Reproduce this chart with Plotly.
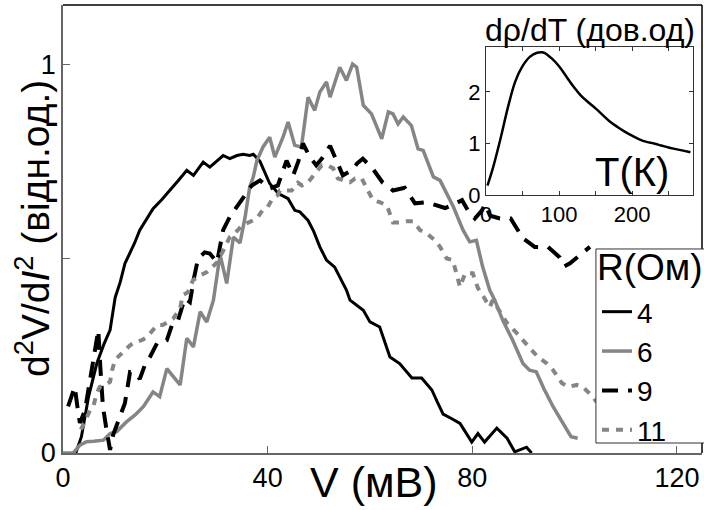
import plotly.graph_objects as go

# ---------------- data ----------------
v_r4 = [2.5, 3.6, 5.0, 6.6, 8.0, 9.2, 10.2, 11.2, 12.1, 13.1, 14.0, 15.0, 16.3, 17.6, 19.2,
        20.9, 22.5, 24.2, 25.5, 27.4, 28.7, 30.0, 31.3, 32.6, 34.0, 35.2, 36.5, 37.2, 38.5,
        40.4, 42.1, 44.0, 45.3, 46.3, 47.9, 49.0, 50.2, 51.5, 53.1, 55.4, 56.1, 58.7, 60.0,
        61.9, 63.9, 65.8, 68.2, 70.1, 72.1, 73.2, 74.3, 76.0, 77.6, 79.9, 81.1, 82.4, 84.8,
        86.8, 88.3, 90.6, 91.6]
y_r4 = [0.0, 0.042, 0.145, 0.23, 0.28, 0.316, 0.40, 0.44, 0.487, 0.513, 0.54, 0.573, 0.60,
        0.628, 0.65, 0.675, 0.70, 0.727, 0.714, 0.748, 0.735, 0.75, 0.765, 0.757, 0.765,
        0.768, 0.765, 0.768, 0.75, 0.693, 0.667, 0.654, 0.624, 0.62, 0.598, 0.57, 0.53,
        0.496, 0.478, 0.419, 0.393, 0.367, 0.337, 0.324, 0.247, 0.23, 0.193, 0.193, 0.162,
        0.13, 0.10, 0.088, 0.076, 0.028, 0.05, 0.028, 0.064, 0.038, 0.003, 0.015, 0.0]

v_r6 = [0.0, 2.0, 3.3, 4.6, 6.0, 7.9, 9.2, 10.5, 12.4, 14.1, 15.7, 17.6, 18.9, 20.3, 21.6,
        22.9, 24.2, 25.5, 26.8, 28.1, 29.4, 30.7, 32.0, 33.3, 34.6, 35.6, 36.5, 37.2, 37.9,
        39.1, 40.4, 41.4, 43.0, 44.0, 45.3, 46.6, 47.9, 49.2, 50.2, 51.5, 52.2, 54.1, 55.4,
        56.6, 57.4, 58.7, 60.3, 62.3, 63.6, 64.5, 65.5, 66.5, 68.1, 69.4, 70.4, 72.4, 73.7,
        76.3, 78.2, 79.5, 80.8, 82.0, 83.4, 84.4, 86.0, 87.9, 89.9, 91.2, 92.5, 94.0, 95.8,
        97.5, 99.3, 100.6]
y_r6 = [0.0, 0.0, 0.02, 0.029, 0.03, 0.033, 0.05, 0.055, 0.08, 0.098, 0.119, 0.157, 0.145,
        0.217, 0.196, 0.175, 0.295, 0.273, 0.363, 0.337, 0.393, 0.51, 0.436, 0.555, 0.54,
        0.607, 0.684, 0.71, 0.752, 0.787, 0.812, 0.761, 0.812, 0.851, 0.791, 0.787, 0.915,
        0.881, 0.928, 0.954, 0.915, 0.992, 0.958, 1.0, 0.992, 0.894, 0.872, 0.808, 0.877,
        0.872, 0.846, 0.864, 0.842, 0.782, 0.778, 0.71, 0.701, 0.633, 0.573, 0.543, 0.547,
        0.48, 0.419, 0.393, 0.34, 0.29, 0.23, 0.213, 0.209, 0.165, 0.119, 0.08, 0.042, 0.038]

v_r9 = [1.0, 2.3, 2.8, 3.3, 4.3, 5.5, 6.9, 7.3, 7.8, 8.5, 9.2, 9.8, 11.1, 12.1, 13.1, 14.1,
        15.0, 16.0, 17.0, 18.4, 19.3, 20.3, 21.5, 22.5, 23.8, 24.8, 25.6, 26.4, 27.7, 28.7,
        30.1, 31.3, 32.6, 34.0, 35.6, 36.9, 38.5, 40.4, 42.0, 43.7, 45.0, 46.0, 46.9, 48.3,
        49.5, 50.6, 52.2, 53.5, 54.7, 56.5, 57.5, 58.6, 60.6, 62.5, 64.5, 66.8, 68.8, 71.1,
        73.3, 74.7, 76.0, 78.0, 79.3, 80.5, 81.9, 82.5, 83.5, 85.4, 87.5, 89.9, 92.2, 94.8,
        97.1, 98.0, 99.1, 101.4, 103.0]
y_r9 = [0.12, 0.17, 0.12, 0.077, 0.11, 0.20, 0.316, 0.22, 0.12, 0.06, 0.008, 0.047, 0.093,
        0.128, 0.208, 0.206, 0.19, 0.226, 0.247, 0.283, 0.283, 0.29, 0.337, 0.342, 0.398,
        0.388, 0.45, 0.50, 0.516, 0.513, 0.49, 0.573, 0.607, 0.632, 0.663, 0.688, 0.701,
        0.68, 0.688, 0.752, 0.714, 0.75, 0.796, 0.76, 0.74, 0.757, 0.79, 0.75, 0.714, 0.727,
        0.745, 0.757, 0.73, 0.695, 0.675, 0.682, 0.642, 0.645, 0.637, 0.63, 0.637, 0.65,
        0.62, 0.603, 0.624, 0.64, 0.61, 0.603, 0.603, 0.552, 0.53, 0.53, 0.503, 0.48, 0.488,
        0.514, 0.53]

v_r11 = [3.5, 4.3, 5.3, 5.9, 6.6, 7.2, 8.2, 9.2, 9.6, 10.2, 10.8, 11.8, 13.1, 14.1, 15.4,
         16.4, 17.6, 18.4, 19.5, 20.5, 21.5, 22.3, 22.9, 23.4, 24.4, 25.4, 26.2, 26.8, 28.1,
         29.1, 30.1, 31.3, 32.6, 33.6, 35.0, 37.1, 37.9, 39.0, 39.9, 41.0, 42.0, 42.4, 43.8,
         44.7, 45.9, 46.7, 47.7, 48.7, 49.6, 50.6, 51.6, 52.8, 53.7, 55.1, 56.1, 57.1, 58.4,
         59.4, 60.6, 61.9, 63.3, 64.5, 65.8, 67.2, 68.4, 69.8, 71.1, 72.7, 73.7, 75.0, 76.2,
         77.6, 78.6, 80.1, 81.1, 82.3, 83.4, 84.0, 85.4, 86.8, 88.7, 89.9, 91.6, 92.8, 94.5,
         95.8, 97.5, 98.7, 100.4, 101.6, 103.6, 104.3]
y_r11 = [0.06, 0.085, 0.11, 0.118, 0.154, 0.17, 0.175, 0.183, 0.213, 0.24, 0.247, 0.26,
         0.277, 0.285, 0.29, 0.298, 0.316, 0.329, 0.329, 0.337, 0.345, 0.36, 0.372, 0.406,
         0.413, 0.444, 0.452, 0.457, 0.465, 0.478, 0.49, 0.52, 0.555, 0.565, 0.585, 0.598,
         0.603, 0.624, 0.63, 0.655, 0.663, 0.675, 0.675, 0.675, 0.695, 0.688, 0.693, 0.709,
         0.727, 0.74, 0.74, 0.732, 0.706, 0.701, 0.696, 0.706, 0.706, 0.68, 0.65, 0.645,
         0.637, 0.593, 0.593, 0.596, 0.596, 0.573, 0.565, 0.547, 0.53, 0.50, 0.496, 0.427,
         0.462, 0.462, 0.424, 0.40, 0.375, 0.393, 0.362, 0.334, 0.308, 0.29, 0.265, 0.247,
         0.231, 0.213, 0.18, 0.17, 0.175, 0.17, 0.144, 0.131]

# inset: d(rho)/dT vs T
t_inset = [2, 10, 20, 30, 40, 50, 60, 70, 76, 80, 90, 100, 110, 120, 130, 140, 150, 160,
           170, 180, 190, 200, 210, 220, 230, 240, 250, 260, 270, 280]
d_inset = [0.18, 0.55, 1.1, 1.7, 2.2, 2.5, 2.68, 2.76, 2.77, 2.76, 2.65, 2.5, 2.3, 2.1,
           1.93, 1.8, 1.68, 1.55, 1.42, 1.32, 1.23, 1.15, 1.08, 1.03, 1.0, 0.96, 0.92,
           0.89, 0.86, 0.83]

series_names = ["4", "6", "9", "11"]
legend_title = "R(Ом)"
x_ticks = [0, 40, 80, 120]
y_ticks = [0, 1]
y_minor_ticks = [0.5]
inset_x_ticks = [0, 100, 200]
inset_x_minor_ticks = [50, 150, 250]
inset_y_ticks = [0, 1, 2]

FONT = "Liberation Sans, Arial, sans-serif"
GRAY = "#858585"

fig = go.Figure()
fig.add_trace(go.Scatter(x=v_r4, y=y_r4, mode="lines", name=series_names[0],
                         line=dict(color="black", width=3)))
fig.add_trace(go.Scatter(x=v_r6, y=y_r6, mode="lines", name=series_names[1],
                         line=dict(color=GRAY, width=3.5)))
fig.add_trace(go.Scatter(x=v_r9, y=y_r9, mode="lines", name=series_names[2],
                         line=dict(color="black", width=4, dash="16px,10px")))
fig.add_trace(go.Scatter(x=v_r11, y=y_r11, mode="lines", name=series_names[3],
                         line=dict(color=GRAY, width=4, dash="7px,7px")))
fig.add_trace(go.Scatter(x=t_inset, y=d_inset, mode="lines", showlegend=False,
                         line=dict(color="black", width=2.5, shape="spline"),
                         xaxis="x2", yaxis="y2"))

fig.update_layout(
    width=704, height=510,
    margin=dict(l=63, r=2, t=5, b=57),
    paper_bgcolor="white", plot_bgcolor="white",
    font=dict(family=FONT, color="black"),
    showlegend=True,
    xaxis=dict(range=[0, 124.9], tickvals=x_ticks, ticks="inside", ticklen=7,
               tickcolor="#666", showline=True, linecolor="#666", linewidth=1.5,
               showgrid=False, zeroline=False, tickfont=dict(size=27)),
    yaxis=dict(range=[0, 1.152], tickvals=y_ticks, ticks="inside",
               ticklen=7, tickcolor="#666", showline=True, linecolor="#666", linewidth=1.5,
               showgrid=False, zeroline=False, tickfont=dict(size=27),
               minor=dict(tickvals=y_minor_ticks, ticks="inside", ticklen=7,
                          tickcolor="#666", showgrid=False)),
    xaxis2=dict(domain=[0.662, 0.986], anchor="y2", range=[0, 283.6],
                tickvals=inset_x_ticks, ticks="inside",
                ticklen=4, tickcolor="#333", showline=True, linecolor="#333",
                mirror="ticks", showgrid=False, zeroline=False, tickfont=dict(size=22),
                minor=dict(tickvals=inset_x_minor_ticks, ticks="inside", ticklen=4,
                           tickcolor="#333", showgrid=False)),
    yaxis2=dict(domain=[0.576, 0.906], anchor="x2", range=[0, 2.87],
                tickvals=inset_y_ticks, ticks="inside", ticklen=4, tickcolor="#333",
                showline=True, linecolor="#333", mirror="ticks", showgrid=False,
                zeroline=False, tickfont=dict(size=22)),
    legend=dict(x=0.8357, y=0.3706, xanchor="left", yanchor="top",
                bgcolor="rgba(0,0,0,0)", borderwidth=0,
                font=dict(size=28, family=FONT), tracegroupgap=0),
    shapes=[
        dict(type="line", xref="paper", yref="paper", x0=0, x1=1, y0=1, y1=1,
             line=dict(color="black", width=1.5)),
        dict(type="line", xref="paper", yref="paper", x0=1, x1=1, y0=0, y1=1,
             line=dict(color="black", width=1.5)),
        # legend frame
        dict(type="rect", xref="paper", yref="paper", x0=0.834, x1=1.02, y0=0.0223,
             y1=0.4554, layer="above", fillcolor="white",
             line=dict(color="#333", width=1)),
    ],
    annotations=[
        dict(text="d<sup>2</sup>V/d<i>I</i><sup>2</sup> (відн.од.)", textangle=-90,
             xref="paper", yref="paper", x=-0.0485, y=0.5, showarrow=False,
             xanchor="center", yanchor="middle", font=dict(size=39, family=FONT)),
        dict(text="V (мВ)", xref="paper", yref="paper", x=0.4867, y=-0.0647,
             showarrow=False, xanchor="center", yanchor="middle",
             font=dict(size=43, family=FONT)),
        dict(text="dρ/dT (дов.од)", xref="paper", yref="paper", x=0.8247, y=0.945,
             showarrow=False, xanchor="center", yanchor="middle",
             font=dict(size=32, family=FONT)),
        dict(text="T(К)", xref="paper", yref="paper", x=0.8905, y=0.627,
             showarrow=False, xanchor="center", yanchor="middle",
             font=dict(size=40, family=FONT)),
        dict(text=legend_title, xref="paper", yref="paper", x=0.9185, y=0.415,
             showarrow=False, xanchor="center", yanchor="middle",
             font=dict(size=37, family=FONT)),
    ],
)

fig.write_html("out.html")
